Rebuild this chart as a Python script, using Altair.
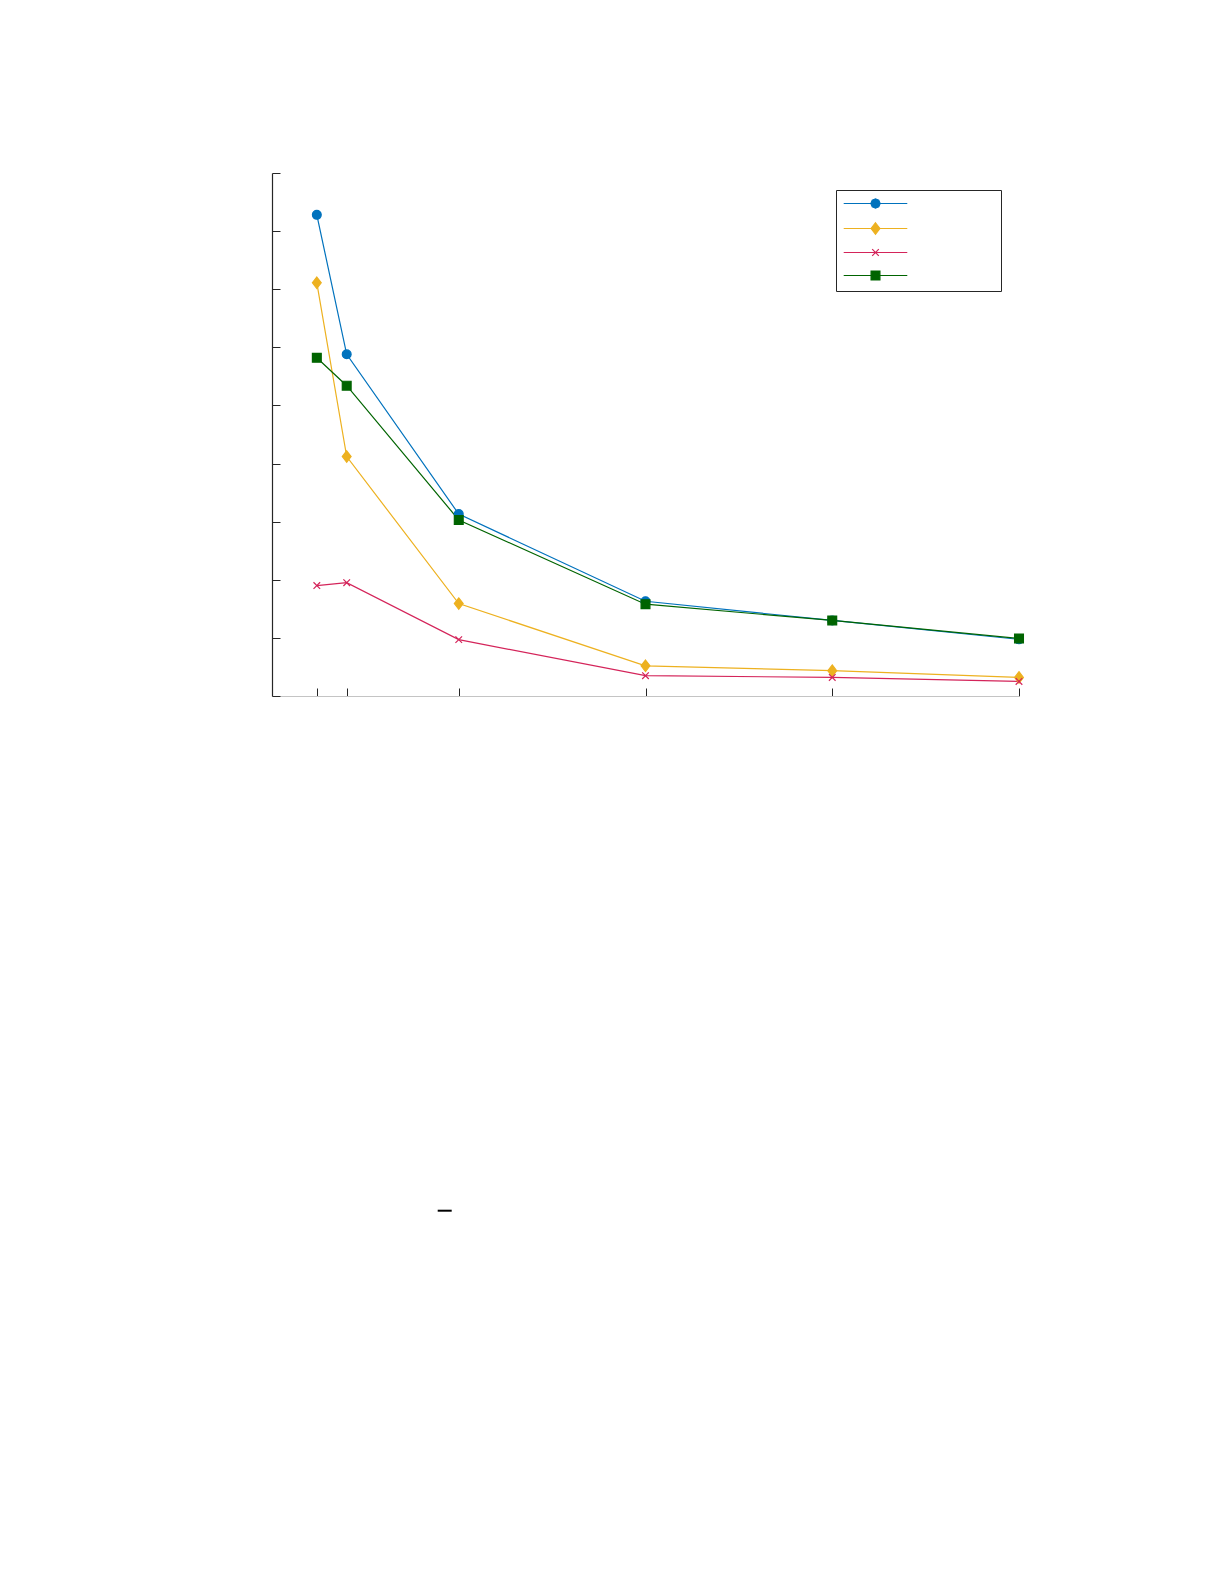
import altair as alt
import pandas as pd

# ---- data ----
series = ["s1", "s2", "s3", "s4"]
x_values = [1.2, 2, 5, 10, 15, 20]
s1_values = [8.28, 5.88, 3.13, 1.63, 1.30, 0.975]
s2_values = [7.11, 4.12, 1.59, 0.52, 0.435, 0.32]
s3_values = [1.90, 1.95, 0.97, 0.35, 0.32, 0.25]
s4_values = [5.82, 5.34, 3.03, 1.58, 1.30, 0.99]
x_ticks = [1.2, 2, 5, 10, 15, 20]
y_ticks = [0, 1, 2, 3, 4, 5, 6, 7, 8, 9]

# ---- styles ----
colors = ["#0072BD", "#EDB120", "#D4245A", "#006400"]
fills = ["#0072BD", "#EDB120", "transparent", "#006400"]
point_shapes = [
    "circle",
    "M0,-1.3L1,0L0,1.3L-1,0Z",
    "M-0.75,-0.75L0.75,0.75M-0.75,0.75L0.75,-0.75",
    "square",
]
legend_shapes = [
    "M-7.2,0H7.2M1.05,0L0.74,0.74L0,1.05L-0.74,0.74L-1.05,0L-0.74,-0.74L0,-1.05L0.74,-0.74Z",
    "M-7.2,0H7.2M0,-1.3L1,0L0,1.3L-1,0Z",
    "M-7.2,0H7.2M-0.75,-0.75L0.75,0.75M-0.75,0.75L0.75,-0.75",
    "M-7.2,0H7.2M-1,-1H1V1H-1Z",
]

rows = []
for name, vals in zip(series, [s1_values, s2_values, s3_values, s4_values]):
    for xv, yv in zip(x_values, vals):
        rows.append({"x": xv, "y": yv, "series": name})
df = pd.DataFrame(rows)

W, H = 747, 523
MSIZE = 78

x_enc = alt.X(
    "x:Q",
    scale=alt.Scale(domain=[0, 20], nice=False, zero=False),
    axis=alt.Axis(
        orient="top", offset=-H, values=x_ticks, labels=False, title=None,
        grid=False, tickSize=8, tickColor="#262626", tickWidth=1,
        domainColor="#c4c4c4", domainWidth=1,
    ),
)
y_enc = alt.Y(
    "y:Q",
    scale=alt.Scale(domain=[0, 9], nice=False),
    axis=alt.Axis(
        orient="right", offset=-W, values=y_ticks, labels=False, title=None,
        grid=False, tickSize=8, tickColor="#262626", tickWidth=1,
        domainColor="#262626", domainWidth=1.2,
    ),
)

legend = alt.Legend(
    orient="none", legendX=564, legendY=17, title=None, labelExpr="''",
    symbolSize=MSIZE, symbolStrokeWidth=1.2, symbolOpacity=1, symbolOffset=26,
    strokeColor="#262626", fillColor="white", padding=8, rowPadding=9,
    labelFontSize=10, labelOffset=112, cornerRadius=0,
)

color_scale = alt.Scale(domain=series, range=colors)
base = alt.Chart(df)

lines = base.mark_line(strokeWidth=1.2).encode(
    x=x_enc, y=y_enc,
    color=alt.Color("series:N", scale=color_scale, legend=legend),
)

point_layers = []
for name, shp, fil in zip(series, point_shapes, fills):
    point_layers.append(
        base.transform_filter(alt.datum.series == name)
        .mark_point(size=MSIZE, strokeWidth=1.2, opacity=1, filled=False, shape=shp, fill=fil)
        .encode(x=x_enc, y=y_enc,
                color=alt.Color("series:N", scale=color_scale, legend=legend))
    )

main = alt.layer(lines, *point_layers)

# legend-only layer: its own y scale puts its marks below the plot, where they are clipped
legend_layer = base.mark_point(
    size=MSIZE, strokeWidth=1.2, opacity=1, filled=False, clip=True
).encode(
    x=x_enc,
    y=alt.Y("y:Q", scale=alt.Scale(domain=[20, 29], nice=False), axis=None),
    color=alt.Color("series:N", scale=color_scale, legend=legend),
    fill=alt.Fill("series:N", scale=alt.Scale(domain=series, range=fills), legend=legend),
    shape=alt.Shape("series:N", scale=alt.Scale(domain=series, range=legend_shapes), legend=legend),
)

dash = alt.Chart(pd.DataFrame({"k": [0]})).mark_rule(color="black", strokeWidth=2).encode(
    x=alt.value(165.7), x2=alt.value(179.7), y=alt.value(1037.7)
)

chart = alt.layer(main, legend_layer, dash).resolve_scale(y="independent").properties(
    width=W, height=H,
    padding={"left": 263, "top": 164, "right": 5, "bottom": 5},
).configure_view(stroke=None)

chart.save("out.html", embed_options={"renderer": "svg", "actions": False})
